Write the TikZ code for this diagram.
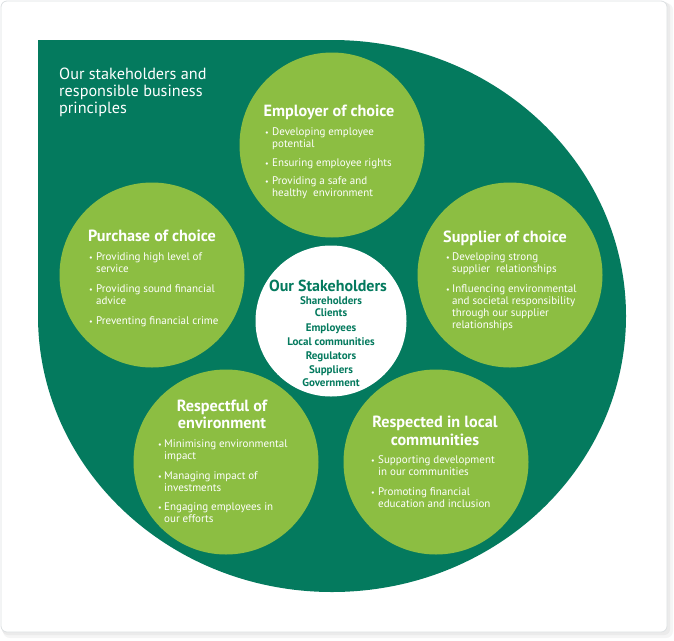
\documentclass[tikz,border=0pt]{standalone}
\usepackage{fontspec}
\setmainfont{PT Sans}
\definecolor{deepgreen}{RGB}{4,122,94}
\definecolor{leafgreen}{RGB}{140,190,66}
\definecolor{cardedge}{RGB}{220,224,226}

\newcommand\bulletmark[3]{\node[bulmark] (#1) at (#2,#3) {\textbullet};}
\newcommand\bulletline[4]{\node[bulbody] (#1) at (#2,#3) {#4};}

\begin{document}
\begin{tikzpicture}[x=1pt,y=-1pt,
  disc/.style={circle, fill=leafgreen, minimum size=185pt, inner sep=0pt},
  hubdisc/.style={circle, fill=white, minimum size=151pt, inner sep=0pt},
  titletxt/.style={text=white, anchor=base west, inner sep=0pt,
    font=\fontsize{16.2}{17}\selectfont},
  headtxt/.style={text=white, anchor=base, inner sep=0pt,
    font=\bfseries\fontsize{16.2}{17}\selectfont},
  bulbody/.style={text=white, anchor=base west, inner sep=0pt,
    font=\fontsize{11}{12}\selectfont},
  bulmark/.style={text=white, anchor=base west, inner sep=0pt,
    font=\fontsize{8}{12}\selectfont},
  hubhead/.style={text=deepgreen, anchor=base, inner sep=0pt,
    font=\bfseries\fontsize{16}{17}\selectfont},
  hubitem/.style={text=deepgreen, anchor=base, inner sep=0pt,
    font=\bfseries\fontsize{11}{12}\selectfont}]
\useasboundingbox (0,0) rectangle (674,640);

% card with a soft shadow
\fill[black!4, rounded corners=7pt] (3,3) rectangle (673,638);
\fill[black!8, rounded corners=6pt] (2,2) rectangle (670,635);
\filldraw[fill=white, draw=cardedge, line width=0.8pt, rounded corners=6pt] (1,1) rectangle (667,632);

% dark backdrop: ellipse with a square top-left quarter
\fill[deepgreen] (38,40) -- (332,40)
  arc[start angle=90, end angle=-180, x radius=294pt, y radius=276pt] -- cycle;

% title
\node[titletxt] (t1) at (59,79) {Our stakeholders and};
\node[titletxt] (t2) at (59,96) {responsible business};
\node[titletxt] (t3) at (59,113) {principles};

% principle discs
\node[disc] (emp) at (332,145) {};
\node[disc] (pur) at (152,275) {};
\node[disc] (sup) at (510,275) {};
\node[disc] (resf) at (226,462) {};
\node[disc] (resd) at (436,462) {};
\node[hubdisc] (hub) at (331,321) {};

% Employer of choice
\node[headtxt] (emph) at (329,116) {Employer of choice};
\bulletmark{empb1}{265}{135}
\bulletline{emp1a}{272}{135}{Developing employee}
\bulletline{emp1b}{272}{147}{potential}
\bulletmark{empb2}{265}{166}
\bulletline{emp2}{272}{166}{Ensuring employee rights}
\bulletmark{empb3}{265}{184}
\bulletline{emp3a}{272}{184}{Providing a safe and}
\bulletline{emp3b}{272}{196}{healthy\ \ environment}

% Purchase of choice
\node[headtxt] (purh) at (152,241) {Purchase of choice};
\bulletmark{purb1}{89}{260}
\bulletline{pur1a}{96}{260}{Providing high level of}
\bulletline{pur1b}{96}{272}{service}
\bulletmark{purb2}{89}{292}
\bulletline{pur2a}{96}{292}{Providing sound financial}
\bulletline{pur2b}{96}{304}{advice}
\bulletmark{purb3}{89}{324}
\bulletline{pur3}{96}{324}{Preventing financial crime}

% Supplier of choice
\node[headtxt] (suph) at (505,242) {Supplier of choice};
\bulletmark{supb1}{446}{260}
\bulletline{sup1a}{452}{260}{Developing strong}
\bulletline{sup1b}{452}{272}{supplier\ \ relationships}
\bulletmark{supb2}{446}{292}
\bulletline{sup2a}{452}{292}{Influencing environmental}
\bulletline{sup2b}{452}{304}{and societal responsibility}
\bulletline{sup2c}{452}{316}{through our supplier}
\bulletline{sup2d}{452}{328}{relationships}

% Respectful of environment
\node[headtxt] (resfh1) at (222,411) {Respectful of};
\node[headtxt] (resfh2) at (222,428) {environment};
\bulletmark{resfb1}{158}{447}
\bulletline{resf1a}{164}{447}{Minimising environmental}
\bulletline{resf1b}{164}{459}{impact}
\bulletmark{resfb2}{158}{479}
\bulletline{resf2a}{164}{479}{Managing impact of}
\bulletline{resf2b}{164}{491}{investments}
\bulletmark{resfb3}{158}{510}
\bulletline{resf3a}{164}{510}{Engaging employees in}
\bulletline{resf3b}{164}{522}{our efforts}

% Respected in local communities
\node[headtxt] (resdh1) at (435,427) {Respected in local};
\node[headtxt] (resdh2) at (435,445) {communities};
\bulletmark{resdb1}{371}{463}
\bulletline{resd1a}{378}{463}{Supporting development}
\bulletline{resd1b}{378}{475}{in our communities}
\bulletmark{resdb2}{371}{495}
\bulletline{resd2a}{378}{495}{Promoting financial}
\bulletline{resd2b}{378}{507}{education and inclusion}

% stakeholders hub
\node[hubhead] (hubh) at (328,291) {Our Stakeholders};
\node[hubitem] (hub1) at (331,304) {Shareholders};
\node[hubitem] (hub2) at (331,316) {Clients};
\node[hubitem] (hub3) at (331,331) {Employees};
\node[hubitem] (hub4) at (331,345) {Local communities};
\node[hubitem] (hub5) at (331,359) {Regulators};
\node[hubitem] (hub6) at (331,373) {Suppliers};
\node[hubitem] (hub7) at (331,386) {Government};
\end{tikzpicture}
\end{document}
